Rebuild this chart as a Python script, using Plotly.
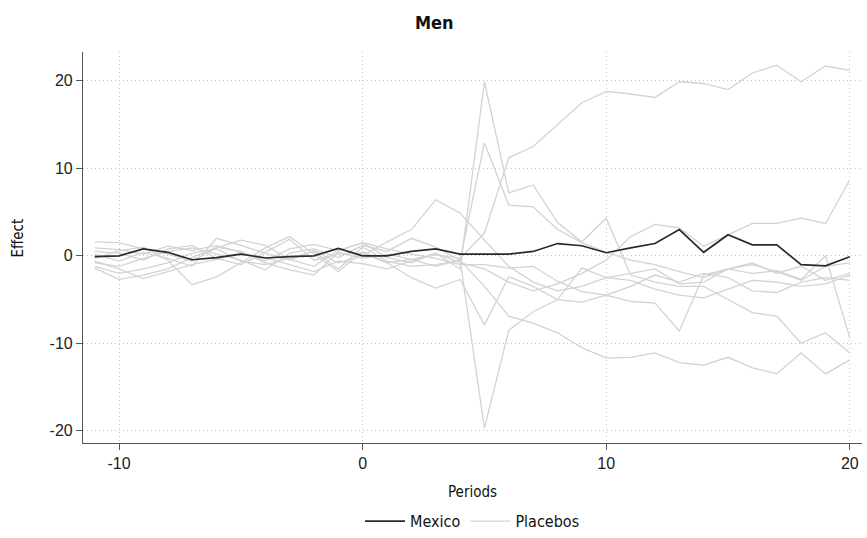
import plotly.graph_objects as go

periods = list(range(-11, 21))

mexico = [-0.1, 0.0, 0.8, 0.4, -0.45, -0.2, 0.2, -0.25, -0.1, 0.0, 0.85, 0.0,
          0.0, 0.5, 0.8, 0.2, 0.2, 0.2, 0.5, 1.4, 1.15, 0.35, 0.9, 1.4,
          3.0, 0.4, 2.4, 1.25, 1.25, -1.0, -1.15, -0.1]

placebo_1 = [0.5, 0.3, -0.5, 0.8, 1.2, -0.3, -1.0, 0.4, 1.9, -0.5, 0.2, 0.3,
             -0.8, -0.4, 0.1, -0.3, 2.6, 11.2, 12.5, 15.0, 17.5, 18.8, 18.5, 18.1,
             19.9, 19.7, 19.0, 20.9, 21.8, 19.9, 21.7, 21.2]
placebo_2 = [1.6, 1.5, 0.8, 0.2, -0.6, 0.9, 1.8, 1.2, -0.4, -1.2, 0.6, 1.5,
             -0.2, -0.8, 0.3, -1.5, 19.9, 7.2, 8.1, 3.8, 1.6, 4.3, -2.2, -3.0,
             -3.5, -3.5, -5.0, -6.5, -6.9, -10.0, -8.8, -11.1]
placebo_3 = [-0.8, -1.2, -0.3, 0.5, 0.9, 0.2, -0.5, -1.6, 0.3, 0.8, -0.2, 1.2,
             0.5, 2.0, 1.0, -0.5, 12.9, 5.8, 5.6, 3.0, 1.5, 0.4, -0.5, -1.0,
             -1.8, -2.5, -1.5, -0.8, -2.0, -1.2, -2.8, -2.0]
placebo_4 = [-1.2, -2.0, -1.5, -0.8, 0.3, 0.8, -0.6, -1.0, -0.3, 0.5, -1.5, 1.0,
             -0.6, -1.2, -1.0, -0.5, -19.7, -8.5, -6.4, -5.0, -1.4, -2.5, -2.0, -1.5,
             -3.2, -3.0, -1.5, -2.0, -1.7, -2.7, 0.0, -9.4]
placebo_5 = [0.2, -0.6, 0.4, -0.3, -1.2, 2.0, 1.2, 0.3, -0.5, 0.6, -0.8, 0.0,
             1.6, 3.0, 6.4, 4.9, 1.8, -1.2, -3.0, -4.0, -3.5, -2.5, -2.8, -3.8,
             -4.5, -4.8, -3.8, -2.8, -3.0, -3.5, -3.2, -2.2]
placebo_6 = [-0.3, 0.6, 1.0, -0.5, -3.3, -2.4, -0.8, 0.9, 2.2, 0.2, -1.8, 0.5,
             -0.8, -2.5, -3.7, -2.7, -7.9, -2.4, -3.5, -5.0, -5.3, -4.5, -3.5, -2.2,
             -3.0, -2.0, -2.5, -4.0, -4.2, -3.0, -2.5, -2.8]
placebo_7 = [-1.4, -2.7, -2.2, -1.5, -0.2, 1.0, 0.5, -0.8, -1.6, -2.2, 0.4, -0.3,
             0.2, -0.4, -1.2, -0.5, -3.5, -6.9, -7.7, -8.8, -10.5, -11.7, -11.6, -11.1,
             -12.2, -12.5, -11.6, -12.8, -13.5, -11.1, -13.5, -11.9]
placebo_8 = [0.9, 0.7, 0.2, 1.1, 0.6, 1.2, 0.4, -0.6, 0.8, 1.3, 0.6, 1.5,
             0.8, 0.2, -0.3, -1.0, -1.0, -1.4, -1.2, -2.9, -4.1, -4.5, -5.2, -5.4,
             -8.6, -2.2, -1.5, -1.0, -1.8, -2.8, -1.2, -0.8]
placebo_9 = [-0.6, -1.5, -2.6, -1.8, -1.0, -0.4, 0.3, -0.2, -1.0, -1.8, -0.6, -0.9,
             -1.5, -0.6, 0.3, -0.8, -1.5, -3.0, -4.0, -3.2, -2.0, -0.5, 2.2, 3.6,
             3.2, 1.1, 2.4, 3.7, 3.7, 4.3, 3.7, 8.7]

placebos = [placebo_1, placebo_2, placebo_3, placebo_4, placebo_5,
            placebo_6, placebo_7, placebo_8, placebo_9]

x_ticks = [-10, 0, 10, 20]
x_tick_labels = ["-10", "0", "10", "20"]
y_ticks = [-20, -10, 0, 10, 20]
y_tick_labels = ["-20", "-10", "0", "10", "20"]

NARROW = "DejaVu Sans Condensed, Liberation Sans Narrow, sans-serif"

fig = go.Figure()
for i, p in enumerate(placebos):
    fig.add_trace(go.Scatter(
        x=periods, y=p, mode="lines", name="Placebos",
        line=dict(color="#d3d3d3", width=1.3),
        legendgroup="placebos", showlegend=(i == 0), legendrank=2,
    ))
fig.add_trace(go.Scatter(
    x=periods, y=mexico, mode="lines", name="Mexico",
    line=dict(color="#2a2a2a", width=1.7), legendrank=1,
))

axis_common = dict(
    showline=True, linecolor="#555555", linewidth=1.2,
    ticks="outside", ticklen=6, tickcolor="#555555", tickwidth=1,
    showgrid=True, gridcolor="#c4c4c4", griddash="1px,3px", gridwidth=1,
    zeroline=False, mirror=False, automargin=False,
    tickfont=dict(family="Liberation Sans, Arial, sans-serif", size=16, color="#222222"),
)

fig.update_layout(
    width=867, height=538,
    paper_bgcolor="white", plot_bgcolor="white",
    margin=dict(l=83, r=5, t=52, b=95, autoexpand=False),
    xaxis=dict(range=[-11.48, 20.5], tickvals=x_ticks, ticktext=x_tick_labels,
               **axis_common),
    yaxis=dict(range=[-21.4, 23.3], tickvals=y_ticks, ticktext=y_tick_labels,
               **axis_common),
    legend=dict(orientation="h", x=0.5, xanchor="center", y=-0.2, yanchor="middle",
                font=dict(family=NARROW, size=16, color="#111111"),
                itemwidth=40, traceorder="normal", bgcolor="rgba(0,0,0,0)"),
    showlegend=True,
    annotations=[
        dict(text="<b>Men</b>", xref="paper", yref="paper", x=(434 - 83) / 779,
             y=1.0, showarrow=False, font=dict(family=NARROW, size=18, color="#111111"),
             xanchor="center", yanchor="middle", yshift=30),
        dict(text="Periods", xref="paper", yref="paper", x=0.5, y=0, yshift=-49,
             showarrow=False, font=dict(family=NARROW, size=15, color="#111111"),
             xanchor="center", yanchor="middle"),
        dict(text="Effect", xref="paper", yref="paper", x=0, xshift=-65, y=0.523,
             showarrow=False, textangle=-90,
             font=dict(family=NARROW, size=15, color="#111111"),
             xanchor="center", yanchor="middle"),
    ],
)

post = (
    "document.body.style.margin='0';"
    "document.body.style.padding='0';"
    "document.querySelectorAll('.annotation-text, .legendtext').forEach(function(e){"
    "e.style.fontStretch='condensed';});"
)

fig.write_html("out.html", post_script=post, config={"displayModeBar": False})
